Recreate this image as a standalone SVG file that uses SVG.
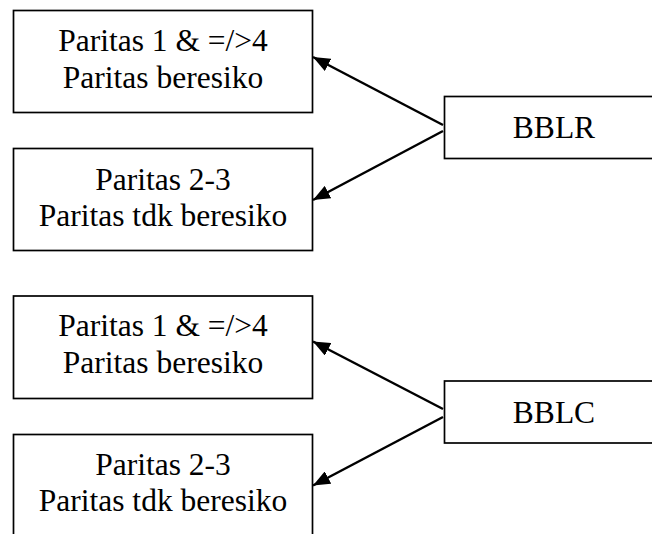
<svg xmlns="http://www.w3.org/2000/svg" width="652" height="534" viewBox="0 0 652 534">
<style>
.box{fill:#fff;stroke:#000;stroke-width:1.7}
.t{font-family:"Liberation Serif","Times New Roman",serif;font-size:31.5px;fill:#000;text-anchor:middle}
.c{stroke:#000;stroke-width:2.5;fill:none;marker-end:url(#ah)}
</style>
<defs>
<marker id="ah" markerUnits="userSpaceOnUse" markerWidth="18" markerHeight="14" refX="17" refY="7" orient="auto">
<path d="M0,0 L17,7 L0,14 z" fill="#000"/>
</marker>
</defs>
<rect width="652" height="534" fill="#fff"/>
<g id="n1"><rect class="box" x="13.5" y="10.5" width="299" height="102"/><text class="t" x="163" y="51">Paritas 1 &amp; =/&gt;4</text><text class="t" x="163" y="88">Paritas beresiko</text></g>
<g id="n2"><rect class="box" x="13.5" y="148.5" width="299" height="102"/><text class="t" x="163" y="189.5">Paritas 2-3</text><text class="t" x="163" y="226">Paritas tdk beresiko</text></g>
<g id="n3"><rect class="box" x="444.5" y="96.5" width="220" height="62"/><text class="t" x="554" y="137.7">BBLR</text></g>
<g id="n4"><rect class="box" x="13.5" y="296" width="299" height="102.5"/><text class="t" x="163" y="336">Paritas 1 &amp; =/&gt;4</text><text class="t" x="163" y="373">Paritas beresiko</text></g>
<g id="n5"><rect class="box" x="13.5" y="434.5" width="299" height="110"/><text class="t" x="163" y="474.5">Paritas 2-3</text><text class="t" x="163" y="511">Paritas tdk beresiko</text></g>
<g id="n6"><rect class="box" x="444.5" y="381" width="220" height="62"/><text class="t" x="554" y="423">BBLC</text></g>
<g id="connectors">
<line class="c" x1="443" y1="125" x2="313" y2="57"/>
<line class="c" x1="443" y1="131" x2="313" y2="200"/>
<line class="c" x1="443" y1="409" x2="313" y2="341.5"/>
<line class="c" x1="443" y1="417" x2="313" y2="485.5"/>
</g>
</svg>
